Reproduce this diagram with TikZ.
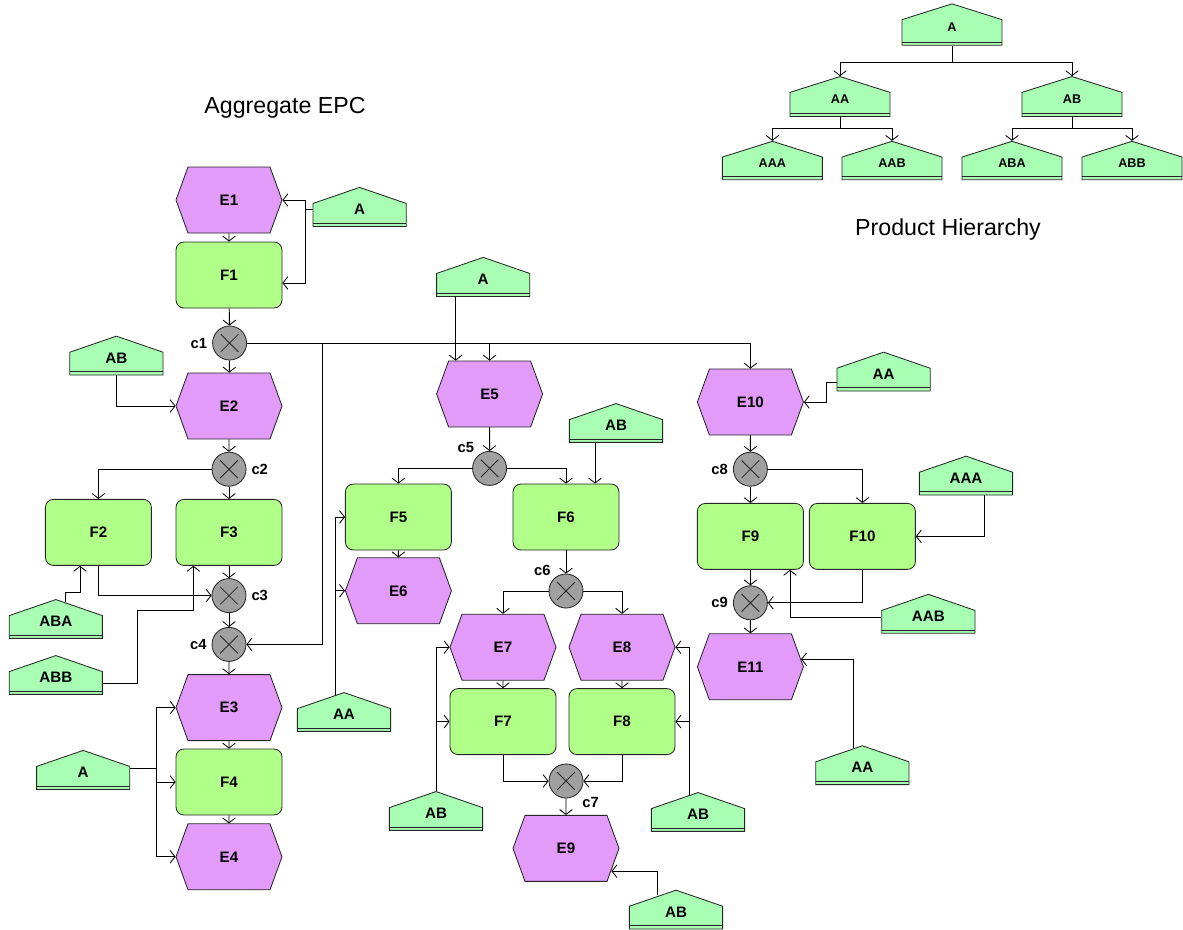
\documentclass[tikz,border=0pt]{standalone}
\usepackage{fontspec}
\setmainfont{Liberation Sans}
\usetikzlibrary{positioning,arrows.meta,calc,shapes.symbols}

\definecolor{evtcol}{RGB}{227,155,250}
\definecolor{funcol}{RGB}{176,255,136}
\definecolor{prdcol}{RGB}{168,255,180}
\definecolor{concol}{RGB}{160,160,160}

\tikzset{
  event/.style={signal,signal to=east and west,signal pointer angle=140,
    draw=black!85,fill=evtcol,minimum width=2.65cm,minimum height=1.65cm,
    inner sep=0pt,font=\fontsize{10.8}{12}\selectfont\bfseries},
  func/.style={rectangle,rounded corners=0.2cm,draw=black!85,fill=funcol,
    minimum width=2.65cm,minimum height=1.65cm,inner sep=0pt,
    font=\fontsize{10.8}{12}\selectfont\bfseries},
  prod/.style={signal,signal to=north,signal pointer angle=142,
    draw=black!85,fill=prdcol,minimum width=2.33cm,minimum height=0.625cm,
    inner sep=0pt,text height=0.27cm,text depth=0.3cm,
    font=\fontsize{10.8}{12}\selectfont\bfseries,
    path picture={\draw[black!85]
      ([yshift=0.08cm]path picture bounding box.south west) --
      ([yshift=0.08cm]path picture bounding box.south east);}},
  tprod/.style={prod,signal pointer angle=145,minimum width=2.5cm,
    minimum height=0.675cm,text height=0.23cm,text depth=0.26cm,
    font=\fontsize{9}{10}\selectfont\bfseries},
  conn/.style={circle,draw=black!85,fill=concol,minimum size=0.85cm,inner sep=0pt,
    path picture={\draw[black!85]
      (path picture bounding box.center) +(-0.22,-0.22) -- +(0.22,0.22)
      (path picture bounding box.center) +(-0.22,0.22) -- +(0.22,-0.22);}},
  clabel/.style={font=\fontsize{10.5}{12}\selectfont\bfseries},
  title/.style={font=\fontsize{16.5}{19}\selectfont}
}

\begin{document}
\begin{tikzpicture}[>={Straight Barb[length=3.5pt,width=9pt]},line width=0.6pt]
\useasboundingbox (0,0) rectangle (29.575,-23.225);

\node[title] (TitleEPC) at (7.125,-2.7) {Aggregate EPC};
\node[title] (TitleHier) at (23.7,-5.725) {Product Hierarchy};

% product hierarchy
\node[tprod] (tA) at (23.8,-0.81) {A};
\node[tprod] (tAA) at (21.0,-2.61) {AA};
\node[tprod] (tAB) at (26.8,-2.61) {AB};
\node[tprod] (tAAA) at (19.31,-4.21) {AAA};
\node[tprod] (tAAB) at (22.3,-4.21) {AAB};
\node[tprod] (tABA) at (25.3,-4.21) {ABA};
\node[tprod] (tABB) at (28.3,-4.21) {ABB};

\draw[->] (tA.south) -- ++(0,-0.425) -| (tAA.north);
\draw[->] (tA.south) -- ++(0,-0.425) -| (tAB.north);
\draw[->] (tAA.south) -- ++(0,-0.3) -| (tAAA.north);
\draw[->] (tAA.south) -- ++(0,-0.3) -| (tAAB.north);
\draw[->] (tAB.south) -- ++(0,-0.3) -| (tABA.north);
\draw[->] (tAB.south) -- ++(0,-0.3) -| (tABB.north);

% left column
\node[event] (E1) at (5.725,-5.0) {E1};
\node[func] (F1) at (5.725,-6.875) {F1};
\node[conn,label={[clabel]left:c1}] (c1) at (5.74,-8.575) {};
\node[event] (E2) at (5.725,-10.15) {E2};
\node[conn,label={[clabel]right:c2}] (c2) at (5.725,-11.73) {};
\node[func] (F2) at (2.46,-13.31) {F2};
\node[func] (F3) at (5.725,-13.31) {F3};
\node[conn,label={[clabel]right:c3}] (c3) at (5.725,-14.89) {};
\node[conn,label={[clabel]left:c4}] (c4) at (5.725,-16.11) {};
\node[event] (E3) at (5.725,-17.69) {E3};
\node[func] (F4) at (5.725,-19.55) {F4};
\node[event] (E4) at (5.725,-21.42) {E4};

\node[prod] (pA1) at (8.99,-5.375) {A};
\node[prod] (pAB1) at (2.91,-9.09) {AB};
\node[prod] (pABA) at (1.395,-15.675) {ABA};
\node[prod] (pABB) at (1.395,-17.075) {ABB};
\node[prod] (pA2) at (2.08,-19.45) {A};

% middle column
\node[event] (E5) at (12.24,-9.85) {E5};
\node[conn,label={[clabel,label distance=-2pt]above left:c5}] (c5) at (12.24,-11.71) {};
\node[func] (F5) at (9.96,-12.925) {F5};
\node[func] (F6) at (14.15,-12.925) {F6};
\node[event] (E6) at (9.96,-14.77) {E6};
\node[conn,label={[clabel,label distance=-2pt]above left:c6}] (c6) at (14.15,-14.775) {};
\node[event] (E7) at (12.575,-16.18) {E7};
\node[event] (E8) at (15.55,-16.18) {E8};
\node[func] (F7) at (12.575,-18.04) {F7};
\node[func] (F8) at (15.55,-18.04) {F8};
\node[conn,label={[clabel,label distance=-1pt]below right:c7}] (c7) at (14.15,-19.525) {};
\node[event] (E9) at (14.15,-21.21) {E9};

\node[prod] (pA3) at (12.08,-7.125) {A};
\node[prod] (pAB2) at (15.4,-10.775) {AB};
\node[prod] (pAA1) at (8.6,-18.0) {AA};
\node[prod] (pAB3) at (10.9,-20.475) {AB};
\node[prod] (pAB4) at (17.45,-20.5) {AB};
\node[prod] (pAB5) at (16.9,-22.94) {AB};

% right column
\node[event] (E10) at (18.76,-10.05) {E10};
\node[conn,label={[clabel]left:c8}] (c8) at (18.76,-11.73) {};
\node[func] (F9) at (18.76,-13.41) {F9};
\node[func] (F10) at (21.56,-13.41) {F10};
\node[conn,label={[clabel]left:c9}] (c9) at (18.76,-15.07) {};
\node[event] (E11) at (18.76,-16.67) {E11};

\node[prod] (pAA2) at (22.09,-9.49) {AA};
\node[prod] (pAAA) at (24.15,-12.09) {AAA};
\node[prod] (pAAB) at (23.21,-15.545) {AAB};
\node[prod] (pAA3) at (21.56,-19.33) {AA};

% control flow
\draw[->] (E1) -- (F1);
\draw[->] (F1) -- (c1);
\draw[->] (c1) -- (E2);
\draw[->] (c1.east) -- ++(1.89,0) |- (c4.east);
\draw[->] (c1.east) -| (E5.north);
\draw[->] (c1.east) -| (E10.north);
\draw[->] (E2) -- (c2);
\draw[->] (c2.west) -| (F2.north);
\draw[->] (c2) -- (F3);
\draw[->] (F2.south) |- (c3.west);
\draw[->] (F3) -- (c3);
\draw[->] (c3) -- (c4);
\draw[->] (c4) -- (E3);
\draw[->] (E3) -- (F4);
\draw[->] (F4) -- (E4);

\draw[->] (E5) -- (c5);
\draw[->] (c5.west) -| (F5.north);
\draw[->] (c5.east) -| (F6.north);
\draw[->] (F5) -- (E6);
\draw[->] (F6) -- (c6);
\draw[->] (c6.west) -| (E7.north);
\draw[->] (c6.east) -| (E8.north);
\draw[->] (E7) -- (F7);
\draw[->] (E8) -- (F8);
\draw[->] (F7.south) |- (c7.west);
\draw[->] (F8.south) |- (c7.east);
\draw[->] (c7) -- (E9);

\draw[->] (E10) -- (c8);
\draw[->] (c8) -- (F9);
\draw[->] (c8.east) -| (F10.north);
\draw[->] (F9) -- (c9);
\draw[->] (F10.south) |- (c9.east);
\draw[->] (c9) -- (E11);

% product assignments
\draw[->] ([yshift=0.13cm]pA1.west) -- ++(-0.19,0) |- (E1.east);
\draw[->] ([yshift=0.13cm]pA1.west) -- ++(-0.19,0) |- ([yshift=-0.2cm]F1.east);
\draw[->] (pAB1.south) |- (E2.west);
\draw[->] ([shift={(0.23,-0.08)}]pABA.north) -- ++(0,0.235) -| ([xshift=-0.46cm]F2.south);
\draw[->] (pABB.east) -- ++(0.875,0) |- ([shift={(-0.89,-1.11)}]F3.south)
  -- ([xshift=-0.89cm]F3.south);
\draw[->] ([yshift=0.245cm]pA2.east) -- ++(0.65,0) |- (E3.west);
\draw[->] ([yshift=0.245cm]pA2.east) -- ++(0.65,0) |- (F4.west);
\draw[->] ([yshift=0.245cm]pA2.east) -- ++(0.65,0) |- (E4.west);

\draw[->] ([xshift=-0.69cm]pA3.south) -- ([xshift=-0.69cm]pA3.south |- E5.north);
\draw[->] ([shift={(-0.525,0)}]pAB2.south) -- ([xshift=0.725cm]F6.north);
\draw[->] ([shift={(-0.225,-0.07)}]pAA1.north) |- (F5.west);
\draw[->] ([shift={(-0.225,-0.07)}]pAA1.north) |- (E6.west);
\draw[->] (pAB3.north) |- (E7.west);
\draw[->] (pAB3.north) |- (F7.west);
\draw[->] ([shift={(-0.225,-0.07)}]pAB4.north) |- (E8.east);
\draw[->] ([shift={(-0.225,-0.07)}]pAB4.north) |- (F8.east);
\draw[->] ([shift={(-0.47,-0.14)}]pAB5.north) |- ([shift={(-0.2,-0.57)}]E9.east);

\draw[->] ([yshift=-0.06cm]pAA2.west) -- ++(-0.25,0) |- (E10.east);
\draw[->] ([xshift=0.46cm]pAAA.south) |- (F10.east);
\draw[->] ([yshift=0.12cm]pAAB.west) -| ([xshift=0.99cm]F9.south);
\draw[->] ([shift={(-0.23,-0.07)}]pAA3.north) |- ([shift={(-0.07,0.19)}]E11.east);
\end{tikzpicture}
\end{document}
